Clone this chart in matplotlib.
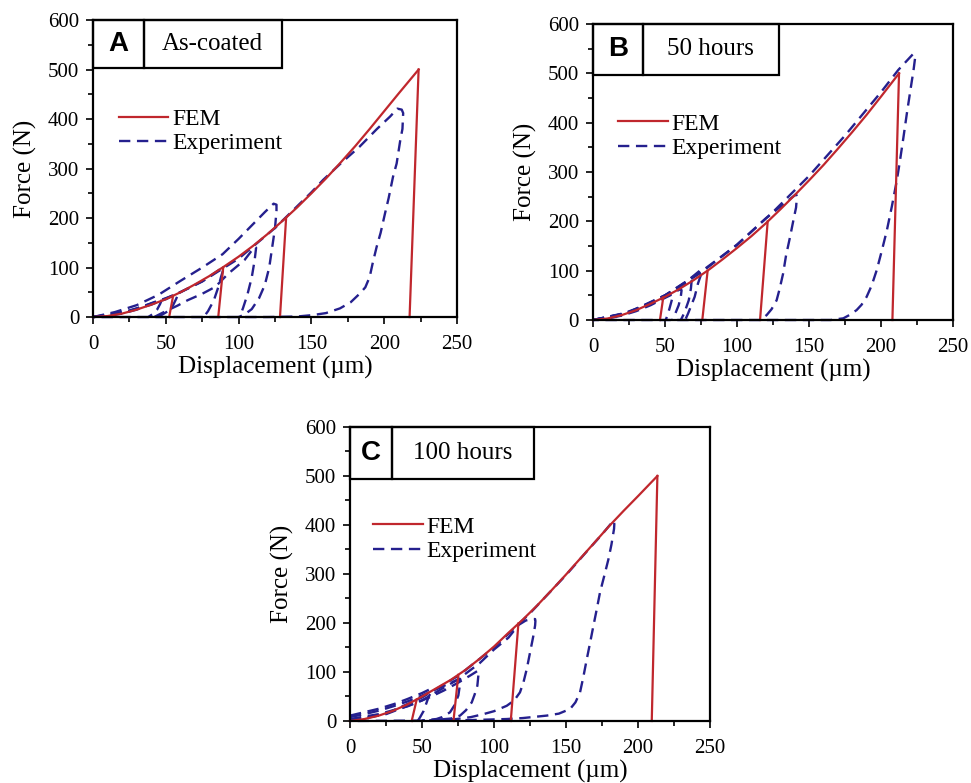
import matplotlib
matplotlib.use('Agg')
import matplotlib.pyplot as plt
from matplotlib.patches import Rectangle
from matplotlib.lines import Line2D
from matplotlib.ticker import MultipleLocator

plt.rcParams['font.family'] = ['Liberation Serif', 'DejaVu Serif']

RED = '#c0272d'
NAVY = '#25208e'
EXP_DASH = (0, (4.8, 2.8))

# ---- panel A : as-coated ----
A_fem_d = [0, 10, 20, 30, 40, 50, 60, 70, 80, 90, 100, 110, 120, 130, 140, 150,
           160, 170, 180, 190, 200, 210, 223.6]
A_fem_f = [0, 2, 7, 15, 25, 36, 50, 66, 83, 102, 122, 144, 168, 194, 221, 250,
           280, 312, 345, 380, 416, 452, 500]
A_unload_d = [[55, 52.3], [89.4, 86], [132.6, 128.4], [223.6, 217.4]]
A_unload_f = [[43, 0], [100, 0], [200, 0], [500, 0]]
A_exp_d = [
    [0, 10, 20, 30, 40, 47, 47, 46, 44, 41, 38],
    [0, 10, 20, 30, 40, 50, 57, 58, 57, 55, 51, 47, 43],
    [0, 20, 40, 60, 75, 89, 89.5, 88, 86, 83, 79, 76],
    [42, 50, 58, 65, 75, 84, 93, 104, 111, 112, 111, 109, 106, 103, 101],
    [0, 15, 30, 45, 60, 75, 89, 100, 110, 118, 124, 126, 126, 125, 123, 121,
     118, 114, 109, 104, 100],
    [0, 25, 50, 75, 100, 125, 150, 158, 170, 183, 195, 204, 209, 212, 213,
     212.5, 211, 208.5, 206, 203, 200.5, 197.5, 194.8, 192, 190, 187, 183.4,
     177, 169.6, 160, 151, 140, 120, 0],
]
A_exp_f = [
    [0, 2, 7, 15, 27, 36, 33, 26, 15, 6, 0],
    [0, 3, 9, 17, 28, 38, 46, 43, 36, 24, 11, 4, 0],
    [0, 8, 25, 50, 72, 100, 96, 82, 60, 34, 12, 0],
    [0, 12, 23, 34, 47, 61, 88, 115, 142, 140, 115, 80, 45, 18, 2],
    [0, 10, 24, 45, 73, 100, 127, 158, 188, 212, 229, 227, 215, 180, 140, 100,
     65, 38, 16, 5, 0],
    [0, 13, 36, 72, 118, 180, 252, 277, 310, 344, 380, 405, 421, 419, 412,
     380, 357, 310, 283, 240, 209, 170, 142, 108, 81, 60, 48,
     30, 17.5, 8, 4, 1, 0, 0],
]

# ---- panel B : 50 hours ----
B_fem_d = [0, 10, 20, 30, 40, 50, 60, 70, 80, 90, 100, 110, 120, 130, 140, 150,
           160, 170, 180, 190, 200, 212.5]
B_fem_f = [0, 3, 10, 20, 33, 47, 63, 81, 101, 123, 146, 170, 196, 224, 253, 283,
           314, 347, 381, 416, 453, 500]
B_unload_d = [[48.8, 46.5], [79.6, 75.9], [121.3, 116], [212.5, 207.9]]
B_unload_f = [[46, 0], [100, 0], [200, 0], [500, 0]]
B_exp_d = [
    [0, 10, 20, 30, 40, 48, 55, 55.5, 54.5, 53, 51.5, 50.5],
    [0, 20, 40, 50, 61, 61.5, 61, 59.5, 57, 55],
    [0, 20, 40, 55, 68, 68.5, 68, 66.5, 63.5, 61],
    [0, 20, 40, 55, 65, 75, 75.5, 75, 72.9, 70.6, 66, 64],
    [0, 25, 50, 75, 100, 120, 141, 141.6, 141, 139, 136.8, 134, 132, 129.5,
     127.5, 124, 120.6, 116],
    [0, 25, 50, 75, 100, 125, 150, 175, 200, 212, 222.5, 223.6, 222.5, 221.3,
     218, 215.5, 213, 210.9, 207.5, 204, 200.5, 197, 193.5, 190, 186.5, 183,
     178, 173.8, 165, 0],
]
B_exp_f = [
    [0, 3, 9, 18, 30, 42, 52, 50, 38, 22, 8, 0],
    [0, 10, 32, 46, 63, 60, 48, 30, 12, 0],
    [0, 11, 33, 56, 82, 80, 64, 40, 15, 0],
    [0, 12, 34, 58, 78, 102, 100, 92, 74, 47, 13, 0],
    [0, 15, 50, 98, 152, 206, 255, 250, 228, 200, 168, 130, 94, 62, 40, 22,
     10, 0],
    [0, 16, 50, 96, 153, 219, 292, 374, 462, 507, 540, 530, 505, 483, 420,
     369, 320, 282, 230, 181, 140, 101, 70, 47, 31, 20, 10, 3.4, 0, 0],
]

# ---- panel C : 100 hours ----
C_fem_d = [0, 10, 20, 30, 40, 50, 60, 70, 80, 90, 100, 110, 120, 130, 140, 150,
           160, 170, 180, 190, 200, 213.4]
C_fem_f = [0, 4, 11, 21, 34, 50, 67, 84, 104, 127, 152, 180, 207, 236, 267, 299,
           332, 365, 398, 429, 459, 500]
C_unload_d = [[46.3, 42.8], [75.2, 71.8], [116.9, 111.6], [213.4, 209.5]]
C_unload_f = [[44, 0], [94, 0], [199, 0], [500, 0]]
C_exp_d = [
    [0, 10, 20, 31, 40, 50, 55.6, 56, 55.6, 54.4, 53.2, 51, 48.6, 47],
    [0, 10, 20, 30, 40, 50, 60, 70, 76.4, 76.6, 76.4, 75.2, 72.5, 69.4, 64,
     60, 50],
    [0, 20, 40, 55, 65, 75, 83, 89, 89.4, 89.1, 88.4, 86.5, 84.5, 80.5, 76.4,
     70, 62.5, 55],
    [0, 25, 50, 75, 90, 100, 110, 117, 122, 126, 128.5, 128.7, 128.5, 127.3,
     125, 122.7, 120.5, 118, 114, 108.8, 100, 92.6, 84, 74, 62, 50.8],
    [0, 25, 50, 75, 100, 125, 150, 165, 175, 183, 183.5, 183.3, 181.5, 179.4,
     176.5, 173.6, 171.3, 169, 166.7, 164.4, 162, 159.7, 156.5, 152.8, 145,
     136.6, 120, 108.8, 85.6, 60, 0],
]
C_exp_f = [
    [11, 18, 25, 35, 45, 57, 65, 63, 55, 48, 38, 20, 7.5, 0],
    [8, 14, 21, 30, 40, 52, 65, 78, 86, 84, 76, 52, 32, 17.7, 8, 4, 1],
    [4, 14, 30, 48, 62, 78, 92, 103, 101, 93, 72, 54, 38, 22, 11, 5, 3, 1],
    [0, 14, 42, 85, 118, 146, 170, 196, 205, 208, 208, 204, 195, 174, 140,
     106, 80, 58.5, 42, 31, 20, 14, 8, 4, 2, 1],
    [0, 15, 48, 92, 150, 220, 298, 348, 381, 409, 402, 392, 360, 330, 296,
     263, 228, 194.5, 160, 126.5, 90, 58.5, 38, 24.5, 15, 11, 6, 4, 2, 1, 0],
]

fig = plt.figure(figsize=(9.71, 7.83), dpi=100)


def panel(rect, fem_d, fem_f, unl_d, unl_f, exp_d, exp_f,
          letter, label, box, leg_xy):
    ax = fig.add_axes(rect)
    for d, f in zip(exp_d, exp_f):
        ax.plot(d, f, color=NAVY, lw=1.7, ls=EXP_DASH, clip_on=False)
    ax.plot(fem_d, fem_f, color=RED, lw=1.6, clip_on=False)
    for d, f in zip(unl_d, unl_f):
        ax.plot(d, f, color=RED, lw=1.6, clip_on=False)

    ax.set_xlim(0, 250)
    ax.set_ylim(0, 600)
    ax.xaxis.set_major_locator(MultipleLocator(50))
    ax.xaxis.set_minor_locator(MultipleLocator(25))
    ax.yaxis.set_major_locator(MultipleLocator(100))
    ax.yaxis.set_minor_locator(MultipleLocator(50))
    ax.tick_params(which='both', direction='out', top=False, right=False,
                   width=1.2)
    ax.tick_params(which='major', length=5, labelsize=15)
    ax.tick_params(which='minor', length=3.5)
    ax.tick_params(axis='x', pad=8)
    ax.tick_params(axis='y', pad=5)
    for s in ax.spines.values():
        s.set_linewidth(1.6)
    ax.set_xlabel('Displacement (µm)', fontsize=18, labelpad=1)
    ax.set_ylabel('Force (N)', fontsize=18, labelpad=8)

    bx, dx, by = box
    ax.add_patch(Rectangle((0, by), dx, 1 - by, transform=ax.transAxes,
                           fill=False, lw=1.6, clip_on=False, zorder=5))
    ax.add_patch(Rectangle((dx, by), bx - dx, 1 - by, transform=ax.transAxes,
                           fill=False, lw=1.6, clip_on=False, zorder=5))
    ax.text(dx / 2, (by + 1) / 2, letter, transform=ax.transAxes,
            ha='center', va='center', fontsize=20, fontweight='bold',
            family=['Liberation Sans', 'DejaVu Sans'])
    ax.text((dx + bx) / 2, (by + 1) / 2, label, transform=ax.transAxes,
            ha='center', va='center', fontsize=18)

    handles = [Line2D([], [], color=RED, lw=1.6),
               Line2D([], [], color=NAVY, lw=1.7, ls=EXP_DASH)]
    ax.legend(handles, ['FEM', 'Experiment'], loc='upper left',
              bbox_to_anchor=leg_xy, frameon=False, fontsize=17,
              handlelength=2.1, handletextpad=0.15, labelspacing=0.12,
              borderpad=0, borderaxespad=0)
    return ax


panel([0.0958, 0.5951, 0.3749, 0.3793], A_fem_d, A_fem_f, A_unload_d,
      A_unload_f, A_exp_d, A_exp_f, 'A', 'As-coated',
      (0.518, 0.140, 0.837), (0.071, 0.703))
panel([0.6107, 0.5913, 0.3708, 0.3780], B_fem_d, B_fem_f, B_unload_d,
      B_unload_f, B_exp_d, B_exp_f, 'B', '50 hours',
      (0.517, 0.138, 0.828), (0.070, 0.699))
panel([0.3605, 0.0792, 0.3708, 0.3755], C_fem_d, C_fem_f, C_unload_d,
      C_unload_f, C_exp_d, C_exp_f, 'C', '100 hours',
      (0.512, 0.116, 0.823), (0.065, 0.697))

fig.savefig('out.png', dpi=100)
